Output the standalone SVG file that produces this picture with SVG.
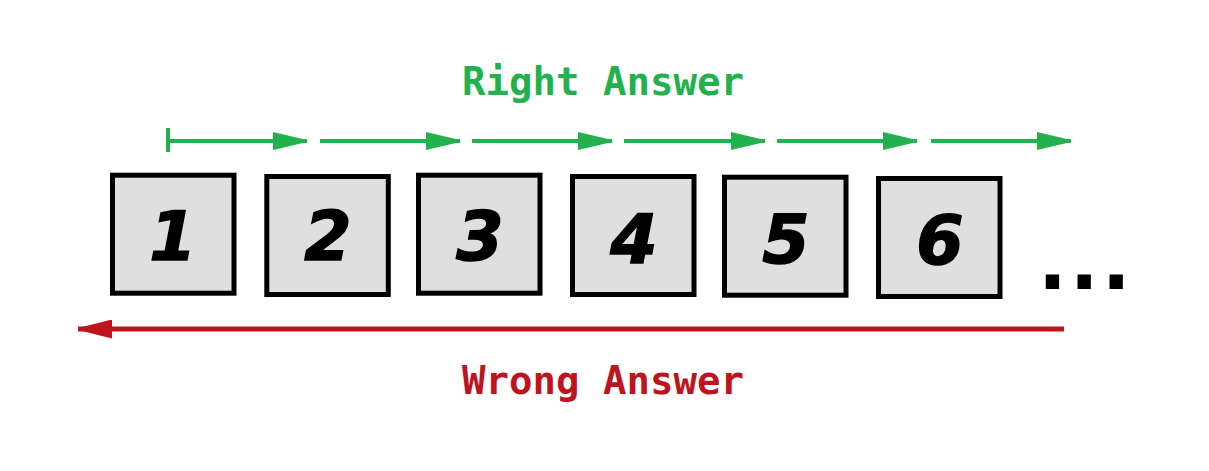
<svg xmlns="http://www.w3.org/2000/svg" width="1209" height="471" viewBox="0 0 1209 471">
<style>
.box{fill:#dfdfdf;stroke:#000;stroke-width:5}
.num{font-family:"DejaVu Sans",sans-serif;font-weight:bold;font-style:oblique;font-size:68px;fill:#000;stroke:#000;stroke-width:1.5;text-anchor:middle}
.lbl{font-family:"DejaVu Sans Mono","Liberation Mono",monospace;font-weight:bold;font-size:39px;text-anchor:middle}
.g{stroke:#22b14c;stroke-width:4;fill:none}
</style>
<defs>
<marker id="ga" viewBox="0 0 34 18" refX="34" refY="9" markerWidth="34" markerHeight="18" markerUnits="userSpaceOnUse" orient="auto">
<path d="M0,0 L34,8 L34,10 L0,18 Z" fill="#22b14c"/>
</marker>
<marker id="ra" viewBox="0 0 34 19" refX="34" refY="9.5" markerWidth="34" markerHeight="19" markerUnits="userSpaceOnUse" orient="auto">
<path d="M0,0 L34,8.5 L34,10.5 L0,19 Z" fill="#be1420"/>
</marker>
</defs>
<text class="lbl" x="603" y="95" fill="#22b14c">Right Answer</text>
<text class="lbl" x="603" y="394" fill="#be1420">Wrong Answer</text>
<g id="connectors">
<line class="g" x1="168" y1="128" x2="168" y2="152"/>
<line class="g" x1="168" y1="141" x2="307" y2="141" marker-end="url(#ga)"/>
<line class="g" x1="320" y1="141" x2="460" y2="141" marker-end="url(#ga)"/>
<line class="g" x1="472" y1="141" x2="612" y2="141" marker-end="url(#ga)"/>
<line class="g" x1="624" y1="141" x2="765" y2="141" marker-end="url(#ga)"/>
<line class="g" x1="777" y1="141" x2="917" y2="141" marker-end="url(#ga)"/>
<line class="g" x1="931" y1="141" x2="1071" y2="141" marker-end="url(#ga)"/>
<line x1="1064" y1="329" x2="78" y2="329" stroke="#be1420" stroke-width="5" marker-end="url(#ra)"/>
</g>
<g id="n1"><rect class="box" x="112.5" y="175.2" width="121.5" height="118"/><text class="num" x="173" y="260">1</text></g>
<g id="n2"><rect class="box" x="266.8" y="176.5" width="121.5" height="118"/><text class="num" x="328" y="260">2</text></g>
<g id="n3"><rect class="box" x="418.5" y="175.2" width="121.5" height="118"/><text class="num" x="480" y="260">3</text></g>
<g id="n4"><rect class="box" x="572.5" y="176.5" width="121.5" height="118"/><text class="num" x="634" y="263">4</text></g>
<g id="n5"><rect class="box" x="724.5" y="177.2" width="121.5" height="118"/><text class="num" x="786" y="263">5</text></g>
<g id="n6"><rect class="box" x="878.5" y="178.5" width="121.5" height="118"/><text class="num" x="940" y="264">6</text></g>
<g id="ellipsis"><text x="1038" y="289" font-family="DejaVu Sans,sans-serif" font-weight="bold" font-size="76" letter-spacing="3" fill="#000">...</text></g>
</svg>
